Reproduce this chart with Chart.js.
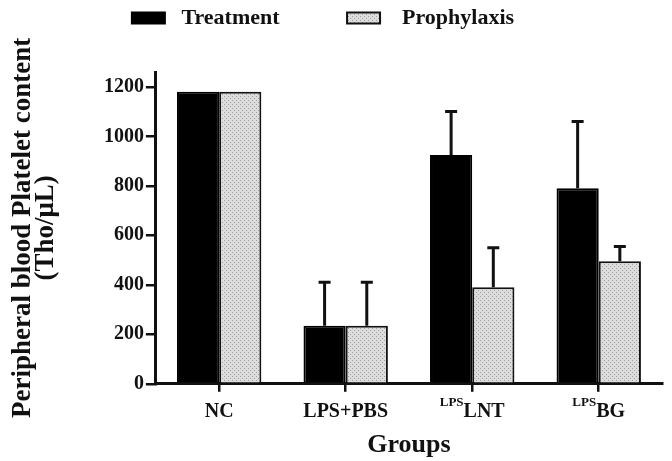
<!DOCTYPE html>
<html>
<head>
<meta charset="utf-8">
<script src="https://cdn.jsdelivr.net/npm/chart.js@4.4.1/dist/chart.umd.min.js"></script>
<style>
  html, body { margin: 0; padding: 0; background: #fff; }
  #wrap { width: 672px; height: 461px; }
</style>
</head>
<body>
<div id="wrap"><canvas id="chart-platelet"></canvas></div>
<script>
const groups = ['NC', 'LPS+PBS', 'LNT', 'BG'];
const groupSup = ['', '', 'LPS', 'LPS'];
const seriesNames = ['Treatment', 'Prophylaxis'];
const treatment = [1180, 235, 925, 790];
const treatmentErr = [0, 175, 175, 270];
const prophylaxis = [1180, 235, 390, 495];
const prophylaxisErr = [0, 175, 160, 60];
const yTicks = [0, 200, 400, 600, 800, 1000, 1200];

const serif = "'Liberation Serif', 'Times New Roman', serif";

// dotted grey fill like the print hatch
const makeHatch = () => {
    let pc = document.createElement('canvas');
    pc.width = 4;
    pc.height = 4;
    let p = pc.getContext('2d');
    p.fillStyle = '#dddddd';
    p.fillRect(0, 0, 4, 4);
    p.fillStyle = '#9c9c9c';
    p.fillRect(0, 0, 1, 1);
    p.fillRect(2, 2, 1, 1);
    return p.createPattern(pc, 'repeat');
};

const errorBars = {
    id: 'errorBars',
    afterDatasetsDraw(chart) {
        const ctx = chart.ctx;
        const y = chart.scales.y;
        chart.data.datasets.forEach((ds, d) => {
            const meta = chart.getDatasetMeta(d);
            meta.data.forEach((bar, i) => {
                const err = ds.errors[i];
                if (!err) return;
                const top = y.getPixelForValue(ds.data[i] + err);
                ctx.save();
                ctx.strokeStyle = '#111';
                ctx.lineWidth = 3;
                ctx.beginPath();
                ctx.moveTo(bar.x, bar.y);
                ctx.lineTo(bar.x, top);
                ctx.moveTo(bar.x - 6, top);
                ctx.lineTo(bar.x + 6, top);
                ctx.stroke();
                ctx.restore();
            });
        });
    }
};

// x labels with superscript prefix
const groupLabels = {
    id: 'groupLabels',
    afterDraw(chart) {
        const ctx = chart.ctx;
        const x = chart.scales.x;
        const yPos = x.top + 33;
        ctx.save();
        ctx.fillStyle = '#111';
        ctx.textBaseline = 'alphabetic';
        groups.forEach((g, i) => {
            const cx = x.getPixelForValue(i);
            ctx.font = 'bold 20px ' + serif;
            const wMain = ctx.measureText(g).width;
            ctx.font = 'bold 13px ' + serif;
            const wSup = groupSup[i] ? ctx.measureText(groupSup[i]).width : 0;
            let left = cx - (wMain + wSup) / 2;
            if (groupSup[i]) {
                ctx.fillText(groupSup[i], left, yPos - 11);
            }
            ctx.font = 'bold 20px ' + serif;
            ctx.fillText(g, left + wSup, yPos);
        });
        ctx.restore();
    }
};

(() => {
    let ctx = document.getElementById('chart-platelet').getContext('2d');
    const hatch = makeHatch();

    new Chart(ctx, {
        type: 'bar',
        data: {
            labels: groups,
            datasets: [{
                label: seriesNames[0],
                data: treatment,
                errors: treatmentErr,
                backgroundColor: '#000',
                borderColor: '#000',
                borderWidth: 2
            }, {
                label: seriesNames[1],
                data: prophylaxis,
                errors: prophylaxisErr,
                backgroundColor: hatch,
                borderColor: '#111',
                borderWidth: 2
            }]
        },
        options: {
            responsive: true,
            maintainAspectRatio: false,
            animation: false,
            layout: { padding: { top: 0, right: 10, bottom: 0, left: 6 } },
            datasets: {
                bar: { categoryPercentage: 0.667, barPercentage: 1.0 }
            },
            plugins: {
                tooltip: { enabled: false },
                legend: {
                    position: 'top',
                    weight: 1000,
                    labels: {
                        color: '#111',
                        font: { family: serif, size: 22, weight: 'bold' },
                        boxWidth: 33,
                        boxHeight: 11,
                        padding: 7,
                        generateLabels(chart) {
                            const items = Chart.defaults.plugins.legend.labels.generateLabels(chart);
                            items[0].text = ' ' + items[0].text + ' '.repeat(11);
                            items[1].text = '  ' + items[1].text + ' '.repeat(4);
                            return items;
                        }
                    }
                },
                // empty spacer between legend and plot
                subtitle: {
                    display: true,
                    text: ' ',
                    position: 'top',
                    weight: 500,
                    font: { size: 1, lineHeight: 1 },
                    padding: { top: 0, bottom: 32 }
                }
            },
            scales: {
                x: {
                    offset: true,
                    grid: { offset: false, drawOnChartArea: false, drawTicks: true, tickLength: 8, color: '#111', lineWidth: 2.5 },
                    border: { display: true, color: '#111', width: 3 },
                    ticks: { color: 'transparent', font: { family: serif, size: 20, weight: 'bold' }, padding: 7 },
                    title: {
                        display: true,
                        text: 'Groups',
                        color: '#111',
                        font: { family: serif, size: 26, weight: 'bold' },
                        padding: { top: 0, bottom: 0 }
                    }
                },
                y: {
                    min: 0,
                    max: 1260,
                    afterBuildTicks: (scale) => {
                        scale.ticks = yTicks.map(v => ({ value: v }));
                    },
                    grid: { drawOnChartArea: false, drawTicks: true, tickLength: 10, color: '#111', lineWidth: 2.5 },
                    border: { display: true, color: '#111', width: 3 },
                    ticks: {
                        color: '#111',
                        font: { family: serif, size: 20, weight: 'bold' },
                        padding: 2,
                        callback: (v) => String(v)
                    },
                    title: {
                        display: true,
                        text: ['Peripheral blood Platelet content', '(Tho/\u03bcL)'],
                        color: '#111',
                        font: { family: serif, size: 27, weight: 'bold', lineHeight: 0.85 },
                        padding: { top: 6, bottom: 44 }
                    }
                }
            }
        },
        plugins: [errorBars, groupLabels]
    });
})();
</script>
</body>
</html>
